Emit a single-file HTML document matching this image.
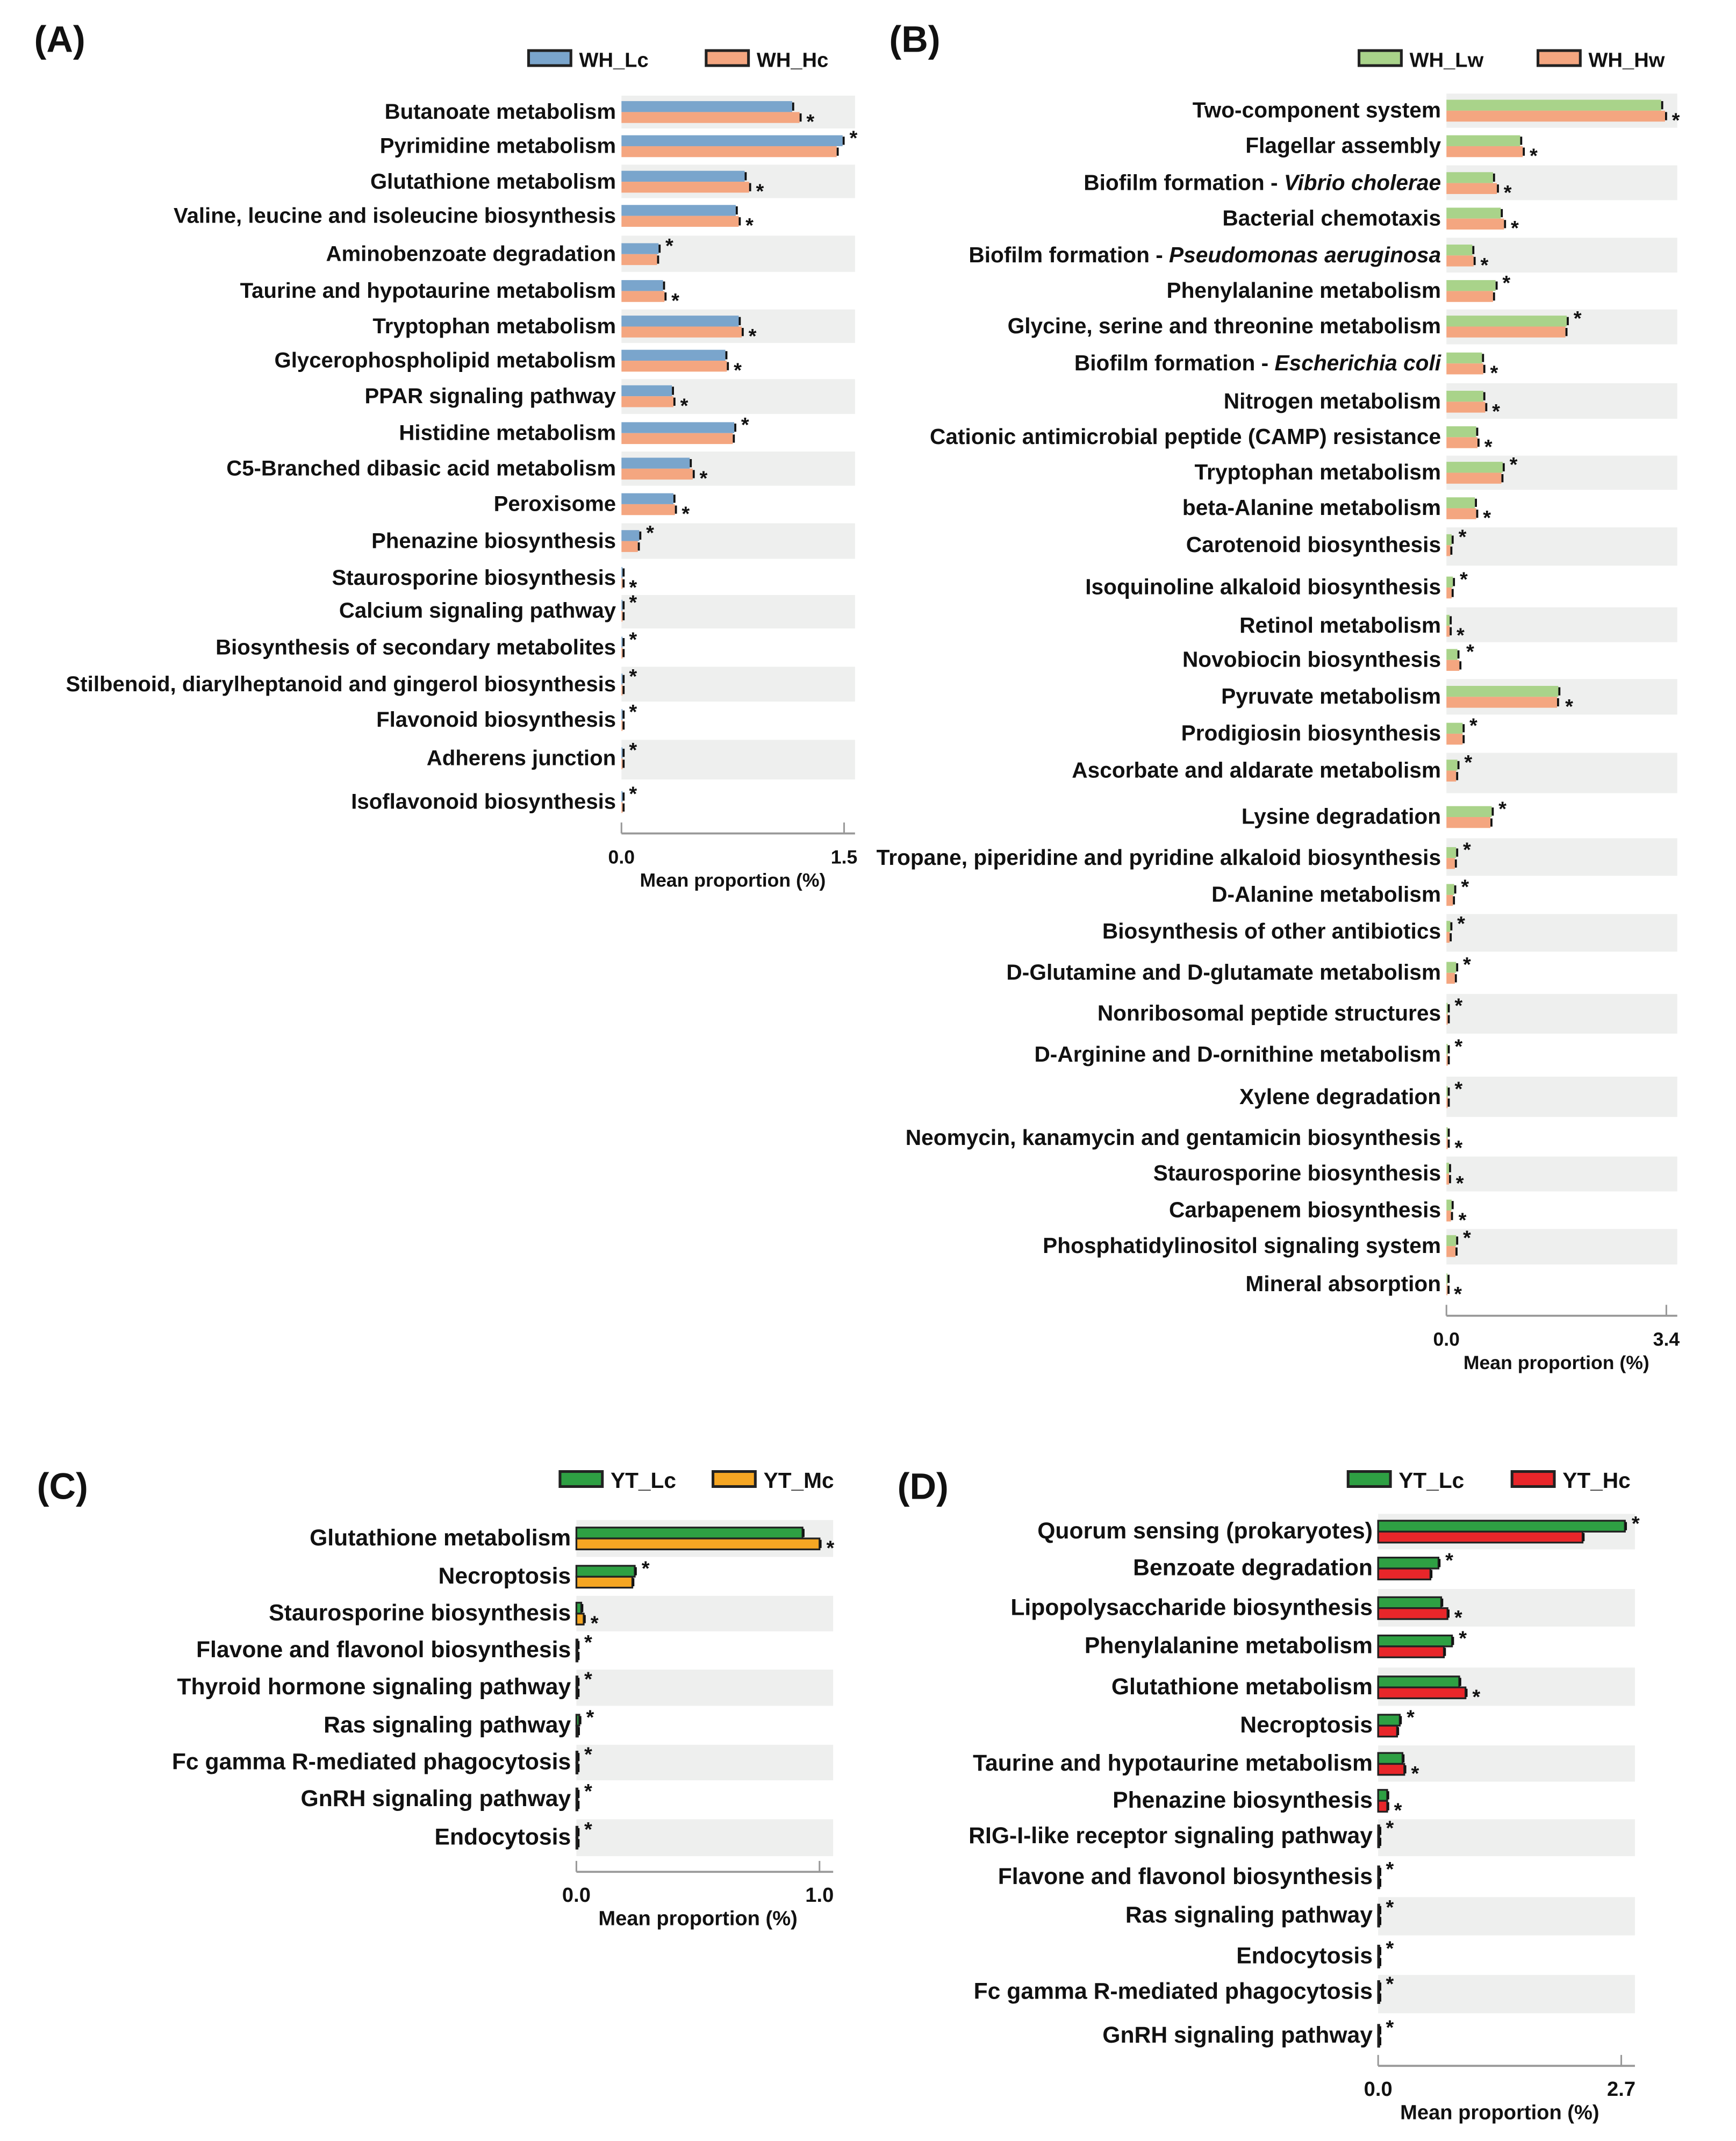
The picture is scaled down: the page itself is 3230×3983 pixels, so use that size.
<!DOCTYPE html>
<html><head><meta charset="utf-8">
<style>
html,body{margin:0;padding:0;background:#fff;}
svg{display:block;}
text{font-family:"Liberation Sans",Arial,sans-serif;font-weight:bold;fill:#111;}
.nar{font-family:"Liberation Sans Narrow","Liberation Sans",sans-serif;}
</style></head>
<body>
<svg id="fig" width="3230" height="3983" viewBox="0 0 1271 1567" preserveAspectRatio="none" xmlns="http://www.w3.org/2000/svg"></svg>
<script>
// ---------- Panel A ----------
const catsA = ["Butanoate metabolism","Pyrimidine metabolism","Glutathione metabolism","Valine, leucine and isoleucine biosynthesis","Aminobenzoate degradation","Taurine and hypotaurine metabolism","Tryptophan metabolism","Glycerophospholipid metabolism","PPAR signaling pathway","Histidine metabolism","C5-Branched dibasic acid metabolism","Peroxisome","Phenazine biosynthesis","Staurosporine biosynthesis","Calcium signaling pathway","Biosynthesis of secondary metabolites","Stilbenoid, diarylheptanoid and gingerol biosynthesis","Flavonoid biosynthesis","Adherens junction","Isoflavonoid biosynthesis"];
const s1A = [1.15,1.49,0.83,0.77,0.25,0.28,0.79,0.70,0.34,0.76,0.46,0.35,0.12,0.005,0.005,0.005,0.005,0.005,0.005,0.005];
const s2A = [1.20,1.45,0.86,0.79,0.24,0.29,0.81,0.71,0.35,0.75,0.48,0.36,0.11,0.005,0.005,0.005,0.005,0.005,0.005,0.005];
const starUpA = [0,1,0,0,1,0,0,0,0,1,0,0,1,0,1,1,1,1,1,1];
const ticksA = [0.0,1.5];
// ---------- Panel B ----------
const catsB = ["Two-component system","Flagellar assembly","Biofilm formation - |Vibrio cholerae","Bacterial chemotaxis","Biofilm formation - |Pseudomonas aeruginosa","Phenylalanine metabolism","Glycine, serine and threonine metabolism","Biofilm formation - |Escherichia coli","Nitrogen metabolism","Cationic antimicrobial peptide (CAMP) resistance","Tryptophan metabolism","beta-Alanine metabolism","Carotenoid biosynthesis","Isoquinoline alkaloid biosynthesis","Retinol metabolism","Novobiocin biosynthesis","Pyruvate metabolism","Prodigiosin biosynthesis","Ascorbate and aldarate metabolism","Lysine degradation","Tropane, piperidine and pyridine alkaloid biosynthesis","D-Alanine metabolism","Biosynthesis of other antibiotics","D-Glutamine and D-glutamate metabolism","Nonribosomal peptide structures","D-Arginine and D-ornithine metabolism","Xylene degradation","Neomycin, kanamycin and gentamicin biosynthesis","Staurosporine biosynthesis","Carbapenem biosynthesis","Phosphatidylinositol signaling system","Mineral absorption"];
const s1B = [3.32,1.14,0.72,0.84,0.40,0.76,1.86,0.55,0.57,0.46,0.87,0.44,0.08,0.10,0.05,0.17,1.73,0.25,0.17,0.70,0.15,0.12,0.06,0.15,0.02,0.02,0.02,0.02,0.04,0.08,0.15,0.01];
const s2B = [3.38,1.18,0.78,0.89,0.42,0.72,1.84,0.57,0.60,0.48,0.85,0.46,0.06,0.08,0.05,0.20,1.71,0.25,0.15,0.68,0.13,0.10,0.05,0.13,0.02,0.02,0.02,0.02,0.04,0.07,0.14,0.01];
const starUpB = [0,0,0,0,0,1,1,0,0,0,1,0,1,1,0,1,0,1,1,1,1,1,1,1,1,1,1,0,0,0,1,0];
const ticksB = [0.0,3.4];
// ---------- Panel C ----------
const catsC = ["Glutathione metabolism","Necroptosis","Staurosporine biosynthesis","Flavone and flavonol biosynthesis","Thyroid hormone signaling pathway","Ras signaling pathway","Fc gamma R-mediated phagocytosis","GnRH signaling pathway","Endocytosis"];
const s1C = [0.93,0.24,0.02,0.004,0.004,0.012,0.004,0.004,0.004];
const s2C = [1.00,0.23,0.03,0.004,0.004,0.006,0.004,0.004,0.004];
const starUpC = [0,1,0,1,1,1,1,1,1];
const ticksC = [0.0,1.0];
// ---------- Panel D ----------
const catsD = ["Quorum sensing (prokaryotes)","Benzoate degradation","Lipopolysaccharide biosynthesis","Phenylalanine metabolism","Glutathione metabolism","Necroptosis","Taurine and hypotaurine metabolism","Phenazine biosynthesis","RIG-I-like receptor signaling pathway","Flavone and flavonol biosynthesis","Ras signaling pathway","Endocytosis","Fc gamma R-mediated phagocytosis","GnRH signaling pathway"];
const s1D = [2.74,0.67,0.70,0.82,0.90,0.24,0.27,0.10,0.01,0.01,0.01,0.01,0.01,0.01];
const s2D = [2.27,0.58,0.77,0.73,0.97,0.21,0.29,0.10,0.01,0.01,0.01,0.01,0.01,0.01];
const starUpD = [1,1,0,1,0,1,0,0,1,1,1,1,1,1];
const ticksD = [0.0,2.7];

const NS="http://www.w3.org/2000/svg";
const svg=document.getElementById('fig');
function mk(tag,attrs,parent){const e=document.createElementNS(NS,tag);for(const k in attrs)e.setAttribute(k,attrs[k]);(parent||svg).appendChild(e);return e;}

function panel(cfg){
  const g=mk('g',{});
  
  
  const sx=v=>cfg.x0+(v-cfg.tmin)/(cfg.tmax-cfg.tmin)*(cfg.x1-cfg.x0);
  const n=cfg.cats.length;
  const yc=i=>cfg.rows[i];
  const L=mk('text',{x:cfg.lx,y:cfg.ly,'font-size':27},g);L.textContent=cfg.letter;
  
  
  cfg.leg.forEach((lg,k)=>{
    const r=mk('rect',{x:lg[0],y:cfg.legy-6,width:31,height:11,fill:cfg.cols[k],stroke:'#222','stroke-width':2},g);
    
    
    const t=mk('text',{x:lg[0]+37,y:cfg.legy+6,'font-size':cfg.legfs,class:cfg.narrow?'nar':''},g);t.textContent=cfg.series[k];
    
    
  });
  for(let i=0;i<n;i++){
    const c=yc(i);
    const prev=i>0?yc(i-1):c-(yc(1)-yc(0));
    const next=i<n-1?yc(i+1):c+(c-prev);
    const top=(prev+c)/2+0.5, bot=(c+next)/2-0.5;
    if(i%2===0){
      const b=mk('rect',{x:cfg.x0,y:top,width:cfg.bandR-cfg.x0,height:bot-top,fill:'#eeefee'},g);
      
      
    }
    const vals=[cfg.s1[i],cfg.s2[i]];
    vals.forEach((v,k)=>{
      const y=k===0?c-cfg.bh:c;
      const w=Math.max(sx(v)-cfg.x0,0.8);
      const r=mk('rect',{x:cfg.x0,y:y,width:w,height:cfg.bh,fill:cfg.cols[k]},g);
      if(cfg.outline){r.setAttribute('stroke','#222');r.setAttribute('stroke-width',1.3);}
      
      
      const e=mk('line',{x1:cfg.x0+w,x2:cfg.x0+w+1.5,y1:y+cfg.bh/2,y2:y+cfg.bh/2,stroke:'#111','stroke-width':cfg.bh-2},g);
      
      
    });
    const mx=Math.max(sx(vals[0]),sx(vals[1]));
    const st=mk('text',{x:mx+5,y:cfg.starUp[i]?c-1:c+12,'font-size':15},g);st.textContent='*';
    
    
    const lab=mk('text',{x:cfg.x0-4,y:c+5,'text-anchor':'end','font-size':cfg.fs,class:cfg.narrow?'nar':''},g);
    const parts=cfg.cats[i].split('|');
    const t1=mk('tspan',{},lab);t1.textContent=parts[0];
    if(parts[1]){const t2=mk('tspan',{'font-style':'italic'},lab);t2.textContent=parts[1];}
    
    
  }
  const ax=mk('line',{x1:cfg.x0,x2:cfg.bandR,y1:cfg.axy,y2:cfg.axy,stroke:'#999','stroke-width':1.5},g);
  
  
  cfg.ticks.forEach(t=>{
    const tl=mk('line',{x1:sx(t),x2:sx(t),y1:cfg.axy-8,y2:cfg.axy,stroke:'#999','stroke-width':1.2},g);
    
    
    const tt=mk('text',{x:sx(t),y:cfg.axy+22,'text-anchor':'middle','font-size':cfg.tfs,class:cfg.narrow?'nar':''},g);tt.textContent=t.toFixed(1);
    
    
  });
  const ti=mk('text',{x:(cfg.x0+cfg.x1)/2,y:cfg.axy+39,'text-anchor':'middle','font-size':cfg.tfs,class:cfg.narrow?'nar':''},g);ti.textContent='Mean proportion (%)';
  
  
}

panel({name:'panel-a',letter:'(A)',lx:25,ly:38,cats:catsA,s1:s1A,s2:s2A,starUp:starUpA,ticks:ticksA,tmin:0,tmax:1.5,
  x0:455,x1:618,bandR:626,rows:[82,107,133,158,186,213,239,264,290,317,343,369,396,423,447,474,501,527,555,587],
  bh:8,cols:['#7aa5cc','#f4a680'],series:['WH_Lc','WH_Hc'],leg:[[387],[517]],legy:43,legfs:15,fs:15.8,tfs:14,axy:610,outline:false,narrow:false});
panel({name:'panel-b',letter:'(B)',lx:651,ly:38,cats:catsB,s1:s1B,s2:s2B,starUp:starUpB,ticks:ticksB,tmin:0,tmax:3.4,
  x0:1059,x1:1220,bandR:1228,rows:[81,107,134,160,187,213,239,266,294,320,346,372,399,430,458,483,510,537,564,598,628,655,682,712,742,772,803,833,859,886,912,940],
  bh:8,cols:['#a9d38a','#f4a680'],series:['WH_Lw','WH_Hw'],leg:[[995],[1126]],legy:43,legfs:15,fs:16,tfs:14,axy:963,outline:false,narrow:true});
panel({name:'panel-c',letter:'(C)',lx:27,ly:1097,cats:catsC,s1:s1C,s2:s2C,starUp:starUpC,ticks:ticksC,tmin:0,tmax:1.0,
  x0:422,x1:600,bandR:610,rows:[1126,1154,1181,1208,1235,1263,1290,1317,1345],
  bh:8,cols:['#2ea043','#f5a623'],series:['YT_Lc','YT_Mc'],leg:[[410],[522]],legy:1083,legfs:16,fs:16.8,tfs:15,axy:1370,outline:true,narrow:true});
panel({name:'panel-d',letter:'(D)',lx:657,ly:1097,cats:catsD,s1:s1D,s2:s2D,starUp:starUpD,ticks:ticksD,tmin:0,tmax:2.7,
  x0:1009,x1:1187,bandR:1197,rows:[1121,1148,1177,1205,1235,1263,1291,1318,1344,1374,1402,1432,1458,1490],
  bh:8,cols:['#2ea043','#e8262a'],series:['YT_Lc','YT_Hc'],leg:[[987],[1107]],legy:1083,legfs:16,fs:16.8,tfs:15,axy:1512,outline:true,narrow:true});
</script>
</body></html>
